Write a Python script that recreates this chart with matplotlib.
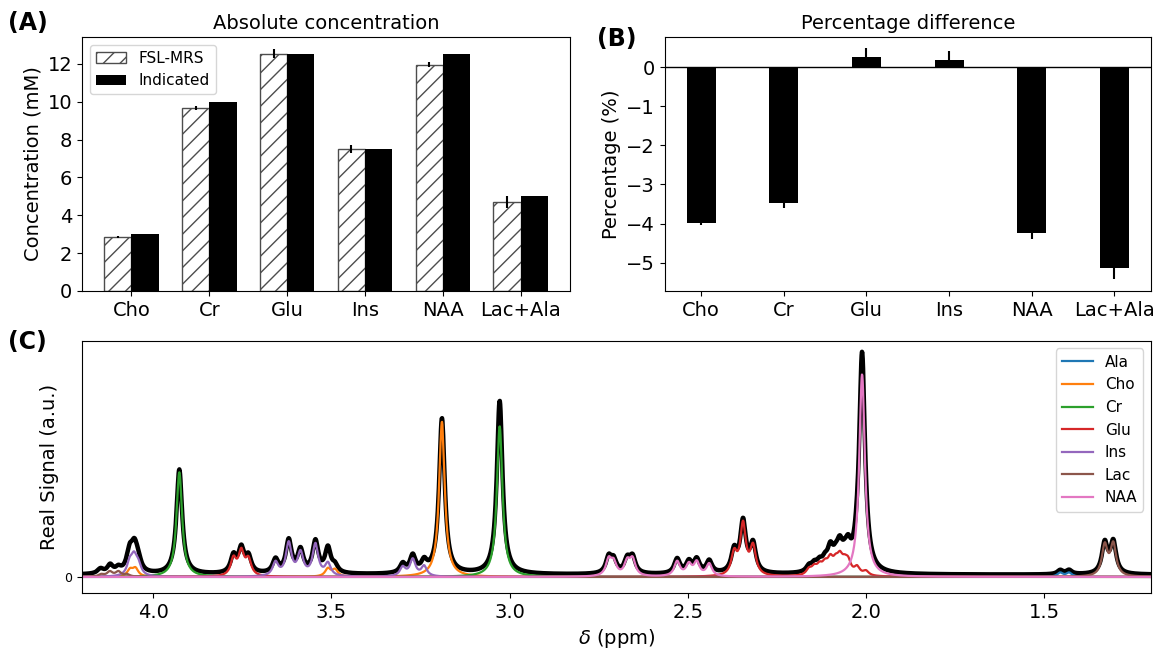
import numpy as np
import matplotlib
matplotlib.use("Agg")
import matplotlib.pyplot as plt
from matplotlib.ticker import MultipleLocator

# ---- panel A / B data ----
metabs = ["Cho", "Cr", "Glu", "Ins", "NAA", "Lac+Ala"]
fsl_conc = [2.85, 9.65, 12.53, 7.49, 11.96, 4.71]
fsl_err = [0.03, 0.10, 0.25, 0.20, 0.15, 0.33]
indicated_conc = [3.0, 10.0, 12.5, 7.5, 12.5, 5.0]
pct_diff = [-3.99, -3.47, 0.27, 0.19, -4.25, -5.13]
pct_err = [0.04, 0.13, 0.21, 0.22, 0.15, 0.30]

# ---- panel C data: peak lists (centre ppm, height) per basis spectrum ----
ala_ppm = [1.455, 1.430]
ala_amp = [0.018, 0.018]
cho_ppm = [3.190, 4.065, 4.050, 3.510, 3.490]
cho_amp = [0.69, 0.030, 0.035, 0.035, 0.030]
cr_ppm = [3.927, 3.028]
cr_amp = [0.465, 0.67]
glu_ppm = [3.775, 3.753, 3.733, 2.370, 2.345, 2.317,
           2.160, 2.145, 2.130, 2.115, 2.100, 2.085, 2.073, 2.060, 2.050, 2.025, 2.000]
glu_amp = [0.075, 0.105, 0.07, 0.095, 0.225, 0.125,
           0.025, 0.03, 0.035, 0.04, 0.06, 0.045, 0.065, 0.04, 0.05, 0.035, 0.02]
ins_ppm = [4.066, 4.054, 4.042, 3.657, 3.620, 3.587, 3.545, 3.510, 3.300, 3.272, 3.240]
ins_amp = [0.055, 0.075, 0.045, 0.06, 0.145, 0.10, 0.14, 0.055, 0.04, 0.075, 0.045]
lac_ppm = [1.330, 1.306, 4.146, 4.122, 4.098, 4.074]
lac_amp = [0.135, 0.14, 0.010, 0.022, 0.022, 0.010]
naa_ppm = [2.011, 2.722, 2.708, 2.670, 2.655, 2.530, 2.497, 2.475, 2.440]
naa_amp = [0.90, 0.07, 0.055, 0.06, 0.07, 0.065, 0.05, 0.06, 0.055]

# extra in measured data not captured by fit
resid_ppm = [3.028, 2.011, 2.100, 2.075, 2.050, 4.150, 4.120, 3.510]
resid_amp = [0.10, 0.06, 0.03, 0.03, 0.03, 0.012, 0.015, 0.02]
data_offset = 0.01

basis_names = ["Ala", "Cho", "Cr", "Glu", "Ins", "Lac", "NAA"]
basis_peaks = [(ala_ppm, ala_amp), (cho_ppm, cho_amp), (cr_ppm, cr_amp),
               (glu_ppm, glu_amp), (ins_ppm, ins_amp), (lac_ppm, lac_amp),
               (naa_ppm, naa_amp)]

ppm = np.linspace(1.2, 4.2, 3000)
hw = 0.0095


def lorentz(centres, amps, gamma=hw):
    out = np.zeros_like(ppm)
    for c, a in zip(centres, amps):
        out += a / (1 + ((ppm - c) / gamma) ** 2)
    return out


fig = plt.figure(figsize=(11.62, 6.48), dpi=100)
axA = fig.add_axes([0.0706, 0.551, 0.42, 0.392])
axB = fig.add_axes([0.572, 0.551, 0.4185, 0.392])
axC = fig.add_axes([0.0706, 0.085, 0.92, 0.389])

# ---- (A) ----
x = np.arange(len(metabs))
w = 0.35
axA.bar(x - w / 2, fsl_conc, w, color="white", edgecolor="0.3",
        hatch="//", label="FSL-MRS")
axA.errorbar(x - w / 2, fsl_conc, yerr=fsl_err, fmt="none", ecolor="k", lw=1.5)
axA.bar(x + w / 2, indicated_conc, w, color="k", label="Indicated")
axA.set_xticks(x)
axA.set_xticklabels(metabs, fontsize=14)
axA.yaxis.set_major_locator(MultipleLocator(2))
axA.tick_params(axis="y", labelsize=14)
axA.set_ylabel("Concentration (mM)", fontsize=14)
axA.set_title("Absolute concentration", fontsize=14)
axA.legend(loc="upper left", fontsize=11)

# ---- (B) ----
axB.bar(x, pct_diff, w, color="k")
axB.errorbar(x, pct_diff, yerr=pct_err, fmt="none", ecolor="k", lw=1.5)
axB.axhline(0, color="k", lw=1)
axB.set_xticks(x)
axB.set_xticklabels(metabs, fontsize=14)
axB.yaxis.set_major_locator(MultipleLocator(1))
axB.tick_params(axis="y", labelsize=14)
axB.set_ylabel("Percentage (%)", fontsize=14)
axB.set_title("Percentage difference", fontsize=14)

# ---- (C) ----
components = [lorentz(c, a) for c, a in basis_peaks]
data = sum(components) + lorentz(resid_ppm, resid_amp) + data_offset
axC.plot(ppm, data, color="k", lw=3.2)
for name, comp in zip(basis_names, components):
    axC.plot(ppm, comp, lw=1.6, label=name)
axC.set_xlim(4.2, 1.2)
axC.set_ylim(-0.071, 1.049)
axC.set_xticks([4.0, 3.5, 3.0, 2.5, 2.0, 1.5])
axC.set_yticks([0])
axC.tick_params(axis="x", labelsize=14)
axC.tick_params(axis="y", labelsize=9)
axC.set_xlabel(r"$\delta$ (ppm)", fontsize=14)
axC.set_ylabel("Real Signal (a.u.)", fontsize=14)
axC.legend(loc="upper right", fontsize=11)

fig.text(0.007, 0.965, "(A)", fontsize=17, fontweight="bold", va="center")
fig.text(0.514, 0.94, "(B)", fontsize=17, fontweight="bold", va="center")
fig.text(0.007, 0.472, "(C)", fontsize=17, fontweight="bold", va="center")

fig.savefig("out.png", dpi=100)
